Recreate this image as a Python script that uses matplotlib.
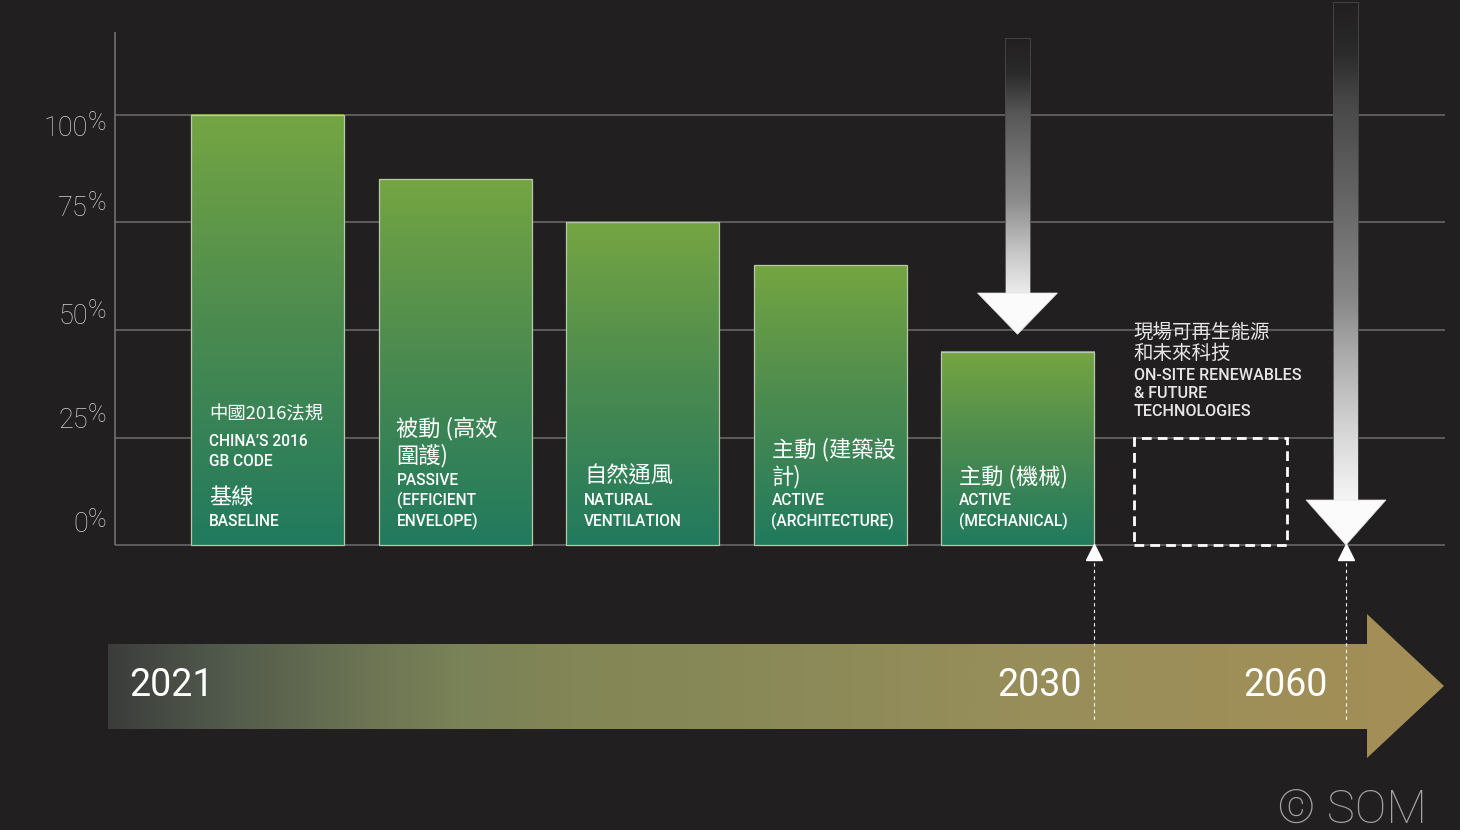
import numpy as np
import matplotlib
matplotlib.use('Agg')
import matplotlib.pyplot as plt
from matplotlib.colors import LinearSegmentedColormap
from matplotlib.patches import Rectangle, Polygon

plt.rcParams['font.family'] = ['Roboto', 'Noto Sans CJK TC', 'DejaVu Sans']

# ---------------- data ----------------
stages = ['Baseline', 'Passive', 'Natural ventilation', 'Active (architecture)', 'Active (mechanical)']
energy = [100, 85, 75, 65, 45]          # % of 2016 GB code energy use
future_level = 25                        # on-site renewables box (dashed)
y_ticks = [0, 25, 50, 75, 100]
y_tick_labels = ['0', '25', '50', '75', '100']
years = ['2021', '2030', '2060']
arrow_2030_tip = 49
arrow_2060_tip = 0

# text inside each bar, top line first: (text, kind)
bar_labels = [
    [('中國2016法規', 'zhs'), ('CHINA’S 2016', 'en'), ('GB CODE', 'en'), ('基線', 'zh'), ('BASELINE', 'en')],
    [('被動 (高效', 'zh'), ('圍護)', 'zh'), ('PASSIVE', 'en'), ('(EFFICIENT', 'en'), ('ENVELOPE)', 'en')],
    [('自然通風', 'zh'), ('NATURAL', 'en'), ('VENTILATION', 'en')],
    [('主動 (建築設', 'zh'), ('計)', 'zh'), ('ACTIVE', 'en'), ('(ARCHITECTURE)', 'en')],
    [('主動 (機械)', 'zh'), ('ACTIVE', 'en'), ('(MECHANICAL)', 'en')],
]
future_label = [('現場可再生能源', 'zh'), ('和未來科技', 'zh'), ('ON-SITE RENEWABLES', 'en'),
                ('& FUTURE', 'en'), ('TECHNOLOGIES', 'en')]

# ---------------- layout helpers (pixel -> data) ----------------
BG = '#221f20'
def X(px):
    return (px - 267.5) / 187.5
def Y(px):
    return (545 - px) / 4.3

bar_w = 153 / 187.5
x_pos = np.arange(len(energy) + 1)

fig = plt.figure(figsize=(14.6, 8.3), dpi=100, facecolor=BG)
ax = fig.add_axes([0, 0, 1, 1])
ax.set_facecolor(BG)
ax.axis('off')

# grid + left axis
ax.hlines(y_ticks, X(115), X(1445), color='#6c6c6c', lw=1.1, zorder=1)
ax.vlines(X(115), 0, Y(32), color='#777777', lw=1.1, zorder=1)

tick_dy = [-20, -17, -14, -14, 13.5]
for t, lab, dy in zip(y_ticks, y_tick_labels, tick_dy):
    ax.text(X(88), Y(545 - t * 4.3 + dy), lab, ha='right', va='center',
            fontsize=19.5, color='#cfcfcf', fontweight='light')
    ax.text(X(88), Y(545 - t * 4.3 + dy - 5), '%', ha='left', va='center',
            fontsize=18, color='#cfcfcf', fontweight='light')

# bars with vertical gradient
bar_cmap = LinearSegmentedColormap.from_list('bar', ['#217a5e', '#4a8a50', '#75a542'])
grad = np.linspace(0, 1, 256).reshape(-1, 1)
for i, v in enumerate(energy):
    x0 = x_pos[i] - bar_w / 2
    ax.imshow(grad, extent=(x0, x0 + bar_w, 0, v), origin='lower', aspect='auto',
              cmap=bar_cmap, zorder=2, interpolation='bicubic')
    ax.add_patch(Rectangle((x0, 0), bar_w, v, fill=False, edgecolor='#b9c7ad',
                           lw=0.9, zorder=3))

# dashed future box
xf = x_pos[len(energy)] + 0.027
ax.add_patch(Rectangle((xf - bar_w / 2, 0), bar_w, future_level, fill=False,
                       edgecolor='white', lw=2, linestyle=(0, (3.5, 2.2)), zorder=3))

# stacked labels
gap = {('en', 'en'): 20.5, ('zh', 'en'): 24, ('zh', 'zh'): 27, ('en', 'zh'): 35,
       ('zhs', 'en'): 27}
gap_small = {('en', 'en'): 18.5, ('zh', 'en'): 22, ('zh', 'zh'): 21}
style = {'en': dict(fontsize=11.2, fontweight='medium', family=['Roboto', 'Noto Sans CJK TC']),
         'zh': dict(fontsize=16, family=['Noto Sans CJK TC', 'DejaVu Sans']),
         'zhs': dict(fontsize=13.2, family=['Noto Sans CJK TC', 'DejaVu Sans'])}

def stack_text(lines, x, bottom_px, gaps, sty, color):
    py = bottom_px
    pos = [py]
    for k in range(len(lines) - 1, 0, -1):
        py -= gaps[(lines[k - 1][1], lines[k][1])]
        pos.insert(0, py)
    for (txt, kind), p in zip(lines, pos):
        ax.text(x, Y(p), txt, ha='left', va='center', color=color, zorder=5, **sty[kind])

for i, lines in enumerate(bar_labels):
    stack_text(lines, x_pos[i] - bar_w / 2 + 18 / 187.5, 521, gap, style, 'white')

style_small = {'en': dict(fontsize=11.6, fontweight='medium', family=['Roboto', 'Noto Sans CJK TC']),
               'zh': dict(fontsize=14, family=['Noto Sans CJK TC', 'DejaVu Sans'])}
stack_text(future_label, xf - bar_w / 2 + 0 / 187.5, 412, gap_small, style_small, '#e6e6e6')

# down arrows
def down_arrow(xc, top, neck, tip, stops):
    sw, hw = 25 / 187.5, 80 / 187.5
    cm = LinearSegmentedColormap.from_list('arr', stops)
    ax.imshow(grad, extent=(xc - sw / 2, xc + sw / 2, neck, top), origin='lower',
              aspect='auto', cmap=cm, zorder=4, interpolation='bicubic')
    ax.add_patch(Rectangle((xc - sw / 2, neck), sw, top - neck, fill=False,
                           edgecolor='#4a4a4a', lw=0.6, zorder=4))
    ax.add_patch(Polygon([(xc - hw / 2, neck), (xc + hw / 2, neck), (xc, tip)],
                         closed=True, facecolor='#fbfbfb', edgecolor='#e0e0e0',
                         lw=0.5, zorder=5))

down_arrow(x_pos[4], Y(38), Y(293), arrow_2030_tip,
           [(0, '#ececec'), (0.15, '#c8c8c8'), (0.36, '#8c8c8c'), (0.70, '#575757'),
            (0.86, '#2a2a2a'), (1, BG)])
m2060 = X(1346)
down_arrow(m2060, Y(2), Y(500), arrow_2060_tip,
           [(0, '#f5f5f5'), (0.14, '#d5d5d5'), (0.30, '#a8a8a8'), (0.40, '#888888'),
            (0.60, '#666666'), (0.80, '#474747'), (0.90, '#2a2a2a'), (1, BG)])

# timeline
tl = [(108, 644), (1367, 644), (1367, 614), (1444, 686), (1367, 758), (1367, 729), (108, 729)]
tl_poly = Polygon([(X(a), Y(b)) for a, b in tl], closed=True, facecolor='none',
                  edgecolor='none', zorder=2)
ax.add_patch(tl_poly)
tl_cmap = LinearSegmentedColormap.from_list('tl', [
    (0, '#3b3d3b'), (0.086, '#525a4c'), (0.174, '#687053'), (0.261, '#7a8258'),
    (0.348, '#838656'), (0.52, '#8b8a58'), (0.63, '#948d5a'), (0.74, '#9a8f5a'),
    (0.89, '#a08e58'), (1, '#a48f56')])
img = ax.imshow(np.linspace(0, 1, 512).reshape(1, -1),
                extent=(X(108), X(1444), Y(758), Y(614)), aspect='auto',
                cmap=tl_cmap, zorder=2, interpolation='bicubic')
img.set_clip_path(tl_poly)

# year markers
m2030 = x_pos[4] + bar_w / 2
for m in [m2030, m2060]:
    ax.plot([m, m], [Y(556), Y(722)], color='white', lw=0.8, linestyle=(0, (3, 3)), zorder=4)
    ax.plot(m, Y(551.5), marker='^', ms=11, color='white', mec='white', zorder=6)

year_x = [X(129), m2030 - 12 / 187.5, m2060 - 18 / 187.5]
year_ha = ['left', 'right', 'right']
for yr, xx, ha in zip(years, year_x, year_ha):
    ax.text(xx, Y(686), yr, ha=ha, va='center', fontsize=27, color='white', zorder=5)

ax.text(X(1427), Y(823), '© SOM', ha='right', va='baseline', fontsize=34,
        color='#a3a3a3', fontweight='light')

ax.set_xlim(X(0), X(1460))
ax.set_ylim(Y(830), Y(0))

fig.savefig('out.png', dpi=100, facecolor=BG)
